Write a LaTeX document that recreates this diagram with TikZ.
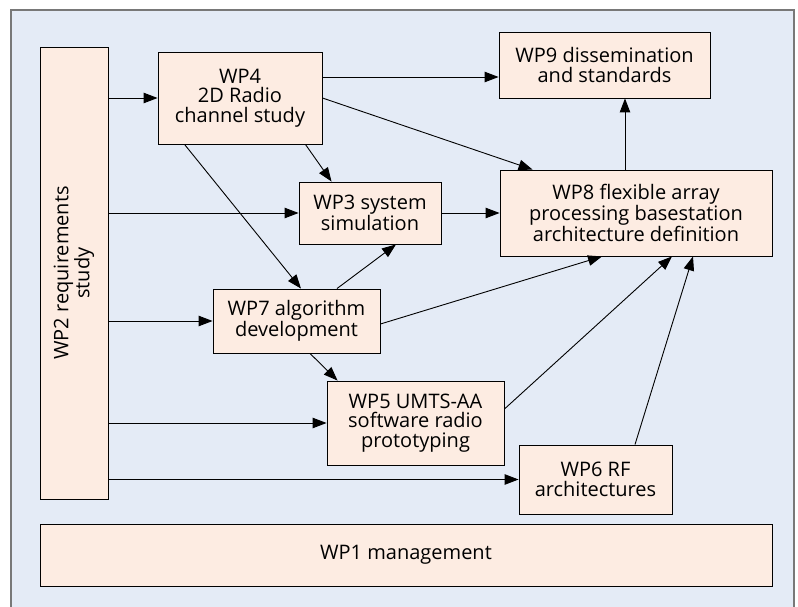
\documentclass[tikz,border=0pt]{standalone}
\usepackage{fontspec}
\setmainfont{Open Sans}
\usetikzlibrary{arrows.meta}
\definecolor{panelblue}{RGB}{228,235,246}
\definecolor{wpfill}{RGB}{253,236,226}
\definecolor{framegray}{RGB}{120,120,120}
\tikzset{
    wpbox/.style={draw=black, fill=wpfill, line width=0.9pt, align=center, inner sep=0pt,
        font=\fontsize{20}{19.5}\selectfont},
    flow/.style={line width=0.9pt, -{Triangle[length=14pt,width=10.5pt]}}
}
\begin{document}
\begin{tikzpicture}[x=1pt, y=-1pt]
    \useasboundingbox (0,0) rectangle (798,607);
    \fill[panelblue] (11,10) rectangle (794,620);
    \draw[framegray, line width=1.3pt] (11,620) -- (11,10) -- (794,10) -- (794,620);
      \node[wpbox, minimum width=164pt, minimum height=92pt] (wp4) at (240,98) {WP4\\2D Radio\\channel study};
      \node[wpbox, minimum width=211pt, minimum height=66pt] (wp9) at (604.5,65) {WP9 dissemination\\and standards};
      \node[wpbox, minimum width=142pt, minimum height=62pt] (wp3) at (370,213) {WP3 system\\simulation};
      \node[wpbox, minimum width=272pt, minimum height=86pt] (wp8) at (636,213) {WP8 flexible array\\processing basestation\\architecture definition};
      \node[wpbox, minimum width=167pt, minimum height=64pt] (wp7) at (296.5,321) {WP7 algorithm\\development};
      \node[wpbox, minimum width=177pt, minimum height=84pt] (wp5) at (415.5,423) {WP5 UMTS-AA\\software radio\\prototyping};
      \node[wpbox, minimum width=153pt, minimum height=69pt] (wp6) at (595.5,479.5) {WP6 RF\\architectures};
      \node[wpbox, rotate=90, minimum width=452pt, minimum height=68pt] (wp2) at (74,273) {WP2 requirements\\study};
      \node[wpbox, minimum width=732pt, minimum height=62pt] (wp1) at (406,555) {WP1 management};
    % links from the requirements study
      \draw[flow] (wp2.south |- wp4.west) -- (wp4.west);
      \draw[flow] (wp2.south |- wp3.west) -- (wp3.west);
      \draw[flow] (wp2.south |- wp7.west) -- (wp7.west);
      \draw[flow] (wp2.south |- wp5.west) -- (wp5.west);
      \draw[flow] (wp2.south |- wp6.west) -- (wp6.west);
    % links between the work packages
      \coordinate (wp9in) at ([yshift=-12pt]wp9.west);
      \draw[flow] (wp4.east |- wp9in) -- (wp9in);
      \draw[flow] (wp4.east) -- ([xshift=33pt]wp8.north west);
      \draw[flow] ([xshift=-17pt]wp4.south east) -- ([xshift=33pt]wp3.north west);
      \draw[flow] ([xshift=27pt]wp4.south west) -- ([xshift=4.5pt]wp7.north);
      \draw[flow] (wp3.east) -- (wp8.west);
      \draw[flow] ([xshift=40.5pt]wp7.north) -- ([xshift=26pt]wp3.south);
      \draw[flow] ([yshift=-3pt]wp7.east) -- ([xshift=-34pt]wp8.south);
      \draw[flow] ([xshift=13.5pt]wp7.south) -- ([xshift=11pt]wp5.north west);
      \draw[flow] ([yshift=14pt]wp5.east) -- ([xshift=36pt]wp8.south);
      \draw[flow] ([xshift=39.5pt]wp6.north) -- ([xshift=57pt]wp8.south);
      \coordinate (wp8out) at ([xshift=-11pt]wp8.north);
      \draw[flow] (wp8out) -- (wp8out |- wp9.south);
    \end{tikzpicture}
\end{document}
